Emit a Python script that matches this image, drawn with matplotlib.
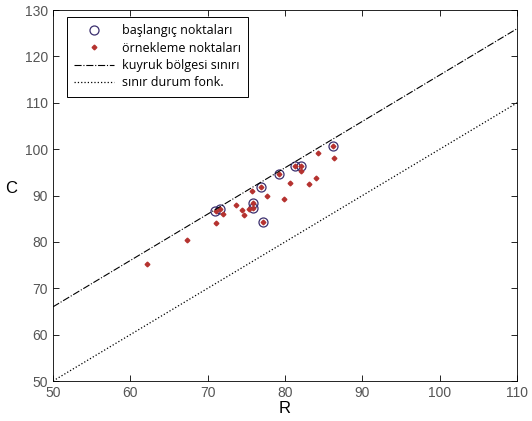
import numpy as np
import matplotlib.pyplot as plt

plt.rcParams['font.family'] = ['Liberation Sans', 'DejaVu Sans']

# baslangic noktalari (daireler)
start_R = [71.0, 71.6, 75.9, 75.9, 76.9, 77.2, 79.2, 81.3, 82.0, 86.2]
start_C = [86.6, 87.1, 88.5, 87.4, 91.9, 84.2, 94.7, 96.4, 96.3, 100.6]

# ornekleme noktalari
samp_R = [62.2, 67.3, 71.1, 71.1, 71.6, 72.0, 73.6, 74.4, 74.7, 75.3, 75.7, 75.9, 75.9,
          76.9, 77.2, 77.7, 79.2, 79.9, 80.7, 81.3, 82.0, 82.0, 83.1, 84.0, 84.2, 86.3, 86.2]
samp_C = [75.3, 80.4, 84.0, 86.6, 87.1, 86.0, 87.9, 86.9, 85.8, 87.2, 91.0, 88.5, 87.4,
          91.9, 84.2, 89.9, 94.7, 89.2, 92.8, 96.4, 96.3, 95.2, 92.4, 93.7, 99.1, 98.2, 100.6]

# sinir cizgileri
line_R = [50, 110]
kuyruk_C = [66, 126]
sinir_C = [50, 110]

fig = plt.figure(figsize=(5.32, 4.21), dpi=100)
ax = fig.add_axes([0.0996, 0.095, 0.8724, 0.881])

ax.plot(start_R, start_C, 'o', mfc='none', mec='#3b2f6e', ms=6.5, mew=0.9, label='başlangıç noktaları')
ax.plot(samp_R, samp_C, 'D', color='#b5322f', ms=2.4, lw=0, label='örnekleme noktaları')
ax.plot(line_R, kuyruk_C, color='black', ls='-.', lw=0.8, label='kuyruk bölgesi sınırı')
ax.plot(line_R, sinir_C, color='black', ls=':', lw=0.9, label='sınır durum fonk.')

ax.set_xlim(50, 110)
ax.set_ylim(50, 130)
ax.set_xticks(range(50, 111, 10))
ax.set_yticks(range(50, 131, 10))
ax.tick_params(direction='in', top=True, right=True, labelsize=10, labelcolor='#555555', length=4, width=0.6)
for s in ax.spines.values():
    s.set_linewidth(0.6)
ax.set_xlabel('R', fontsize=12, labelpad=1)
ax.set_ylabel('C', fontsize=12, rotation=0, labelpad=10)

leg = ax.legend(loc='upper left', bbox_to_anchor=(0.03, 0.982), fancybox=False, edgecolor='black',
                framealpha=1, prop={'family': 'Open Sans', 'size': 9}, handlelength=3.2,
                borderpad=0.6, labelspacing=0.35, handletextpad=0.6, borderaxespad=0)
leg.get_frame().set_linewidth(0.7)

fig.savefig('out.png', dpi=100)
